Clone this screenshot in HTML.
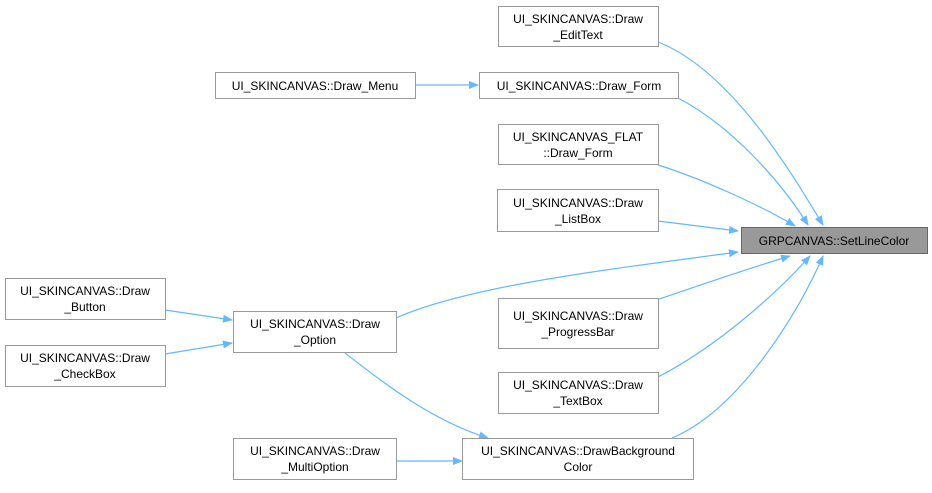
<!DOCTYPE html>
<html><head><style>
body{margin:0;background:#fff;}
svg text{font-family:"Liberation Sans",Arial,sans-serif;font-size:12px;fill:#000;text-anchor:middle;}
</style></head><body>
<svg width="932" height="488" viewBox="0 0 932 488" xmlns="http://www.w3.org/2000/svg">
<defs><marker id="a" markerWidth="10" markerHeight="8" refX="9" refY="4" orient="auto" markerUnits="userSpaceOnUse"><path d="M0,0 L10,4 L0,8 Z" fill="#63b8ff"/></marker></defs>
<g fill="none" stroke="#63b8ff" stroke-width="1.2" marker-end="url(#a)">
<path d="M658,42 C730,70 790,170 823,225"/>
<path d="M678,98 C730,125 780,180 808,225"/>
<path d="M658,165 C700,178 760,205 795,226"/>
<path d="M658,221 L738,231"/>
<path d="M396,318 C470,285 620,268 738,252"/>
<path d="M642,305 C700,285 760,265 790,256"/>
<path d="M658,377 C720,345 780,290 810,256"/>
<path d="M672,438 C740,410 800,310 823,256"/>
<path d="M415,85 L478,85"/>
<path d="M165,310 L232,320"/>
<path d="M165,354 L232,343"/>
<path d="M345,353 C380,380 430,420 488,438"/>
<path d="M396,461 L462,461"/>
</g>
<g stroke="#999" stroke-width="1" fill="#fff">
<rect x="741.5" y="227.5" width="186" height="26" fill="#999" stroke="#666"/>
<rect x="498.5" y="6.5" width="160" height="40"/>
<rect x="215.5" y="72.5" width="200" height="26"/>
<rect x="479.5" y="72.5" width="199" height="26"/>
<rect x="498.5" y="124.5" width="160" height="40"/>
<rect x="497.5" y="189.5" width="161" height="42"/>
<rect x="233.5" y="311.5" width="163" height="41"/>
<rect x="5.5" y="278.5" width="160" height="41"/>
<rect x="5.5" y="345.5" width="160" height="41"/>
<rect x="498.5" y="298.5" width="160" height="50"/>
<rect x="498.5" y="372.5" width="160" height="41"/>
<rect x="462.5" y="438.5" width="231" height="41"/>
<rect x="233.5" y="438.5" width="163" height="41"/>
</g>
<text x="834" y="245">GRPCANVAS::SetLineColor</text>
<text x="578" y="23">UI_SKINCANVAS::Draw</text><text x="578" y="39">_EditText</text>
<text x="315" y="90">UI_SKINCANVAS::Draw_Menu</text>
<text x="579" y="90">UI_SKINCANVAS::Draw_Form</text>
<text x="578" y="141">UI_SKINCANVAS_FLAT</text><text x="578" y="157">::Draw_Form</text>
<text x="578" y="207">UI_SKINCANVAS::Draw</text><text x="578" y="223">_ListBox</text>
<text x="315" y="328">UI_SKINCANVAS::Draw</text><text x="315" y="344">_Option</text>
<text x="85" y="295">UI_SKINCANVAS::Draw</text><text x="85" y="311">_Button</text>
<text x="85" y="362">UI_SKINCANVAS::Draw</text><text x="85" y="378">_CheckBox</text>
<text x="578" y="320">UI_SKINCANVAS::Draw</text><text x="578" y="336">_ProgressBar</text>
<text x="578" y="389">UI_SKINCANVAS::Draw</text><text x="578" y="405">_TextBox</text>
<text x="578" y="455">UI_SKINCANVAS::DrawBackground</text><text x="578" y="471">Color</text>
<text x="315" y="455">UI_SKINCANVAS::Draw</text><text x="315" y="471">_MultiOption</text>
</svg>
</body></html>
